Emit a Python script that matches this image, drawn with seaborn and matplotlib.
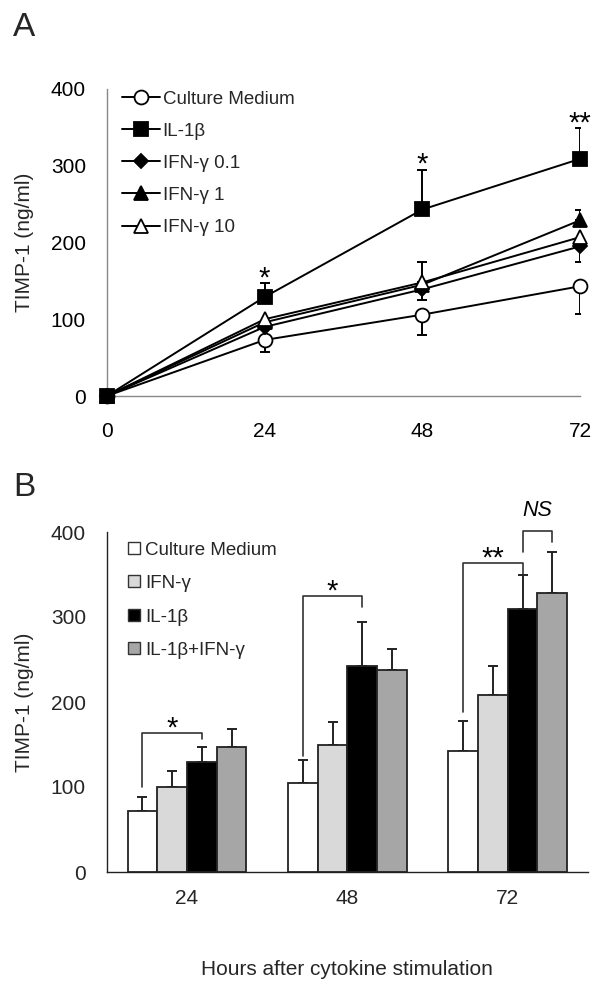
import numpy as np
import pandas as pd
import matplotlib
matplotlib.use('Agg')
import matplotlib.pyplot as plt
import seaborn as sns
from matplotlib.patches import Patch

# ---------------- data: panel A (time course) ----------------
hours = [0, 24, 48, 72]
a_labels = ['Culture Medium', 'IL-1β', 'IFN-γ 0.1', 'IFN-γ 1', 'IFN-γ 10']
a_culture = [0, 73, 106, 143]
a_il1b = [0, 129, 243, 309]
a_ifn01 = [0, 90, 139, 195]
a_ifn1 = [0, 96, 145, 229]
a_ifn10 = [0, 100, 148, 207]
# one-sided error bars
a_culture_err = [0, 16, 27, 36]   # drawn downward
a_il1b_err = [0, 18, 52, 40]      # drawn upward
a_ifn01_err = [0, 0, 14, 21]      # drawn downward
a_ifn1_err = [0, 0, 0, 13]        # drawn upward
a_ifn10_err = [0, 0, 27, 0]       # drawn upward
a_stars = ['', '*', '*', '**']

# ---------------- data: panel B (bars) ----------------
b_hours = ['24', '48', '72']
b_groups = ['Culture Medium', 'IFN-γ', 'IL-1β', 'IL-1β+IFN-γ']
b_culture = [72, 105, 142]
b_ifn = [100, 149, 208]
b_il1b = [129, 242, 309]
b_combo = [147, 238, 328]
b_culture_err = [16, 27, 36]
b_ifn_err = [19, 27, 34]
b_il1b_err = [18, 52, 40]
b_combo_err = [21, 24, 48]

sns.set_theme(style='white')
plt.rcParams['font.family'] = ['Liberation Sans', 'DejaVu Sans']

fig = plt.figure(figsize=(6, 10), dpi=100)
axA = fig.add_axes([0.178, 0.604, 0.789, 0.307])
axB = fig.add_axes([0.178, 0.128, 0.802, 0.340])

TICK_FS = 15
LEG_FS = 13.5

# ---------------- panel A ----------------
series = [
    ('Culture Medium', a_culture, a_culture_err, -1, 'o', 'white', 10),
    ('IFN-γ 0.1', a_ifn01, a_ifn01_err, -1, 'D', 'black', 7.5),
    ('IFN-γ 1', a_ifn1, a_ifn1_err, 1, '^', 'black', 10),
    ('IFN-γ 10', a_ifn10, a_ifn10_err, 1, '^', 'white', 10),
    ('IL-1β', a_il1b, a_il1b_err, 1, 's', 'black', 10),
]
for i, (lab, vals, err, direc, mk, fc, ms) in enumerate(series):
    xs = [h for h, e in zip(hours, err) if e > 0]
    ys = [v for v, e in zip(vals, err) if e > 0]
    es = [e for e in err if e > 0]
    if es:
        zeros = [0] * len(es)
        yerr = [es, zeros] if direc < 0 else [zeros, es]
        axA.errorbar(xs, ys, yerr=yerr, fmt='none', ecolor='black',
                     elinewidth=1.4, capsize=3.5, capthick=1.4, zorder=2 + i * 2)
    sns.lineplot(x=hours, y=vals, ax=axA, color='black', linewidth=1.4,
                 marker=mk, markersize=ms, markerfacecolor=fc,
                 markeredgecolor='black', markeredgewidth=1.3,
                 label=lab, clip_on=False, zorder=3 + i * 2, errorbar=None)

for h, v, e, s in zip(hours, a_il1b, a_il1b_err, a_stars):
    if s:
        axA.text(h, v + e - 12, s, ha='center', va='bottom', fontsize=21,
                 color='black')

axA.set_xlim(0, 72)
axA.set_ylim(0, 400)
axA.set_xticks(hours)
axA.set_yticks([0, 100, 200, 300, 400])
axA.tick_params(axis='both', labelsize=TICK_FS, colors='black')
axA.tick_params(axis='x', length=6, width=1, color='#888888', pad=13, direction='out')
axA.tick_params(axis='y', length=6, width=1, color='#888888', pad=9, direction='out')
for sp in ['top', 'right']:
    axA.spines[sp].set_visible(False)
for sp in ['left', 'bottom']:
    axA.spines[sp].set_color('#888888')
    axA.spines[sp].set_linewidth(1.0)
axA.set_xlabel('')
axA.set_ylabel('TIMP-1 (ng/ml)', fontsize=TICK_FS, labelpad=12)

handles, labels = axA.get_legend_handles_labels()
hmap = dict(zip(labels, handles))
axA.legend([hmap[l] for l in a_labels], a_labels, loc='upper left',
           bbox_to_anchor=(0.033, 0.995), frameon=False, fontsize=LEG_FS,
           handlelength=2.0, handletextpad=0.15, labelspacing=0.8,
           borderaxespad=0, borderpad=0)

fig.text(0.022, 0.973, 'A', fontsize=24, ha='left', va='center')

# ---------------- panel B ----------------
df = pd.DataFrame({
    'hour': np.repeat(b_hours, len(b_groups)),
    'group': b_groups * len(b_hours),
    'value': np.ravel(np.column_stack([b_culture, b_ifn, b_il1b, b_combo])),
})
palette = ['white', '#d9d9d9', 'black', '#a6a6a6']
sns.barplot(data=df, x='hour', y='value', hue='group', order=b_hours,
            hue_order=b_groups, palette=palette, edgecolor='#222222',
            linewidth=1.3, width=0.74, gap=0, errorbar=None, ax=axB,
            legend=False, zorder=3)

centers = []
for cont, errs in zip(axB.containers, [b_culture_err, b_ifn_err, b_il1b_err, b_combo_err]):
    xs = [p.get_x() + p.get_width() / 2 for p in cont]
    ys = [p.get_height() for p in cont]
    centers.append(xs)
    axB.errorbar(xs, ys, yerr=[[0] * len(errs), errs], fmt='none',
                 ecolor='#222222', elinewidth=1.4, capsize=3.5, capthick=1.4,
                 zorder=2)

# significance brackets: (hour idx, left group, right group, top, left end, right end, text, italic)
brackets = [
    (0, 0, 2, 163, 100, 157, '*', False),
    (1, 0, 2, 325, 136, 312, '*', False),
    (2, 0, 2, 363, 188, 351, '**', False),
    (2, 2, 3, 401, 376, 388, 'NS', True),
]
for hi, gl, gr, top, le, re_, txt, it in brackets:
    xl = centers[gl][hi]
    xr = centers[gr][hi]
    axB.plot([xl, xl, xr, xr], [le, top, top, re_], color='#333333',
             linewidth=1.2, zorder=4, clip_on=False)
    if it:
        axB.text((xl + xr) / 2, top + 12, txt, ha='center', va='bottom',
                 fontsize=15.5, style='italic', color='black')
    else:
        axB.text((xl + xr) / 2, top - 11, txt, ha='center', va='bottom',
                 fontsize=21, color='black')

axB.set_ylim(0, 400)
axB.set_xlim(-0.5, 2.5)
axB.set_yticks([0, 100, 200, 300, 400])
axB.set_xticks([-0.5, 0.5, 1.5, 2.5], minor=True)
axB.tick_params(axis='x', which='major', length=0, pad=12, labelsize=TICK_FS)
axB.tick_params(axis='x', which='minor', length=8, width=1, color='#222222', direction='out')
axB.tick_params(axis='y', length=6, width=1, color='#222222', pad=9,
                labelsize=TICK_FS, direction='out')
for sp in ['top', 'right']:
    axB.spines[sp].set_visible(False)
for sp in ['left', 'bottom']:
    axB.spines[sp].set_color('#222222')
    axB.spines[sp].set_linewidth(1.0)
axB.set_ylabel('TIMP-1 (ng/ml)', fontsize=TICK_FS, labelpad=12)
axB.set_xlabel('Hours after cytokine stimulation', fontsize=TICK_FS, labelpad=38)

leg_handles = [Patch(facecolor=c, edgecolor='#333333', linewidth=1.0) for c in palette]
axB.legend(leg_handles, b_groups, loc='upper left', bbox_to_anchor=(0.045, 0.972),
           frameon=False, fontsize=LEG_FS, handlelength=0.6, handleheight=0.6,
           handletextpad=0.3, labelspacing=0.88, borderaxespad=0, borderpad=0)

fig.text(0.022, 0.512, 'B', fontsize=24, ha='left', va='center')

fig.savefig('out.png', dpi=100)
